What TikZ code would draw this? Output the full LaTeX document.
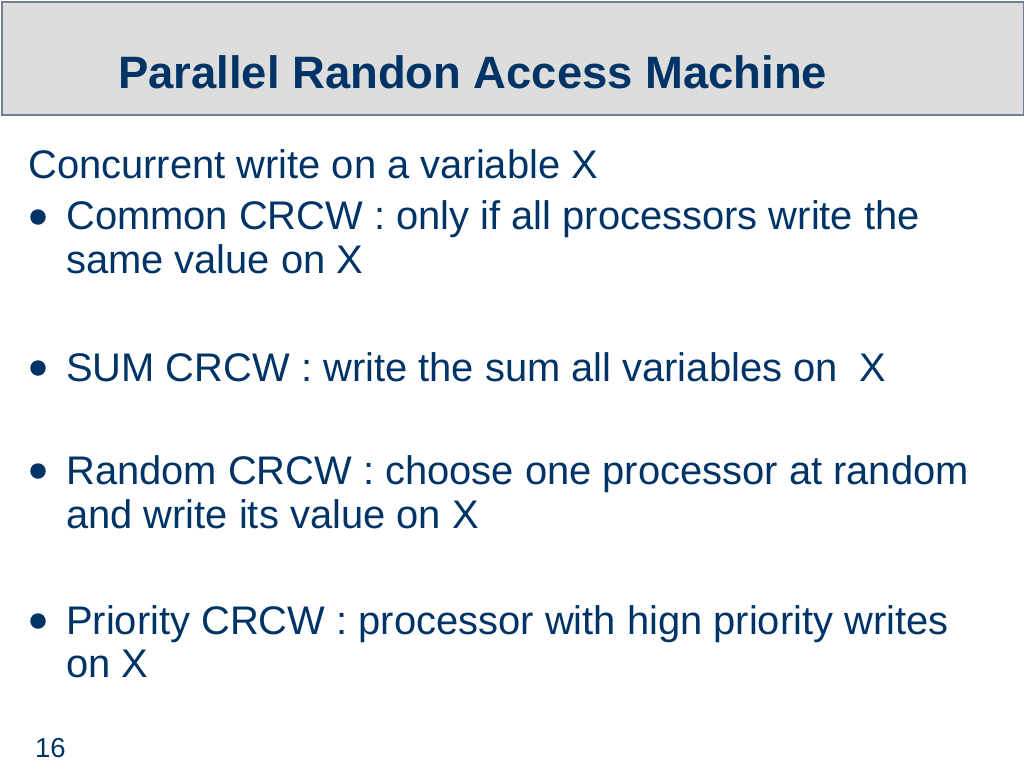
\documentclass[tikz,border=0pt]{standalone}
\usepackage{fontspec}
\setmainfont{Liberation Sans}
\usepackage{xcolor}
\usepackage{tikz}
\usetikzlibrary{positioning}
\definecolor{slideblue}{HTML}{003366}
\definecolor{titlegray}{HTML}{DDDDDD}
\definecolor{framegray}{HTML}{717D90}
\tikzstyle{line} = [anchor=base west, inner sep=0pt, text=slideblue, font=\fontsize{39.9}{44}\selectfont]
\tikzstyle{dot} = [circle, fill=slideblue, minimum size=15.5pt, inner sep=0pt]

\begin{document}
\begin{tikzpicture}[x=1pt, y=-1pt]
\useasboundingbox (0,0) rectangle (1024,768);
\node [draw=framegray, line width=1.6pt, fill=titlegray, rectangle, minimum width=1022pt, minimum height=113pt, anchor=north west, inner sep=0pt] (head) at (1,1) {};
\node [anchor=base west, inner sep=0pt, text=slideblue, font=\fontsize{45.4}{50}\bfseries\selectfont] (title) at (118,88) {Parallel Randon Access Machine};
\node [line] (intro) at (28,178) {Concurrent write on a variable X};
\node [dot] (b1) at (38,217) {};
\node [line] (common) at (66,229) {Common CRCW : only if all processors write the};
\node [line] (common2) at (66,273) {same value on X};
\node [dot] (b2) at (38,368) {};
\node [line] (sum) at (66,381) {SUM CRCW : write the sum all variables on\ \ X};
\node [dot] (b3) at (38,471) {};
\node [line] (random) at (66,484) {Random CRCW : choose one processor at random};
\node [line] (random2) at (66,528) {and write its value on X};
\node [dot] (b4) at (38,621) {};
\node [line] (priority) at (66,634) {Priority CRCW : processor with hign priority writes};
\node [line] (priority2) at (66,677) {on X};
\node [anchor=base west, inner sep=0pt, text=slideblue, font=\fontsize{27.5}{30}\selectfont] (page) at (35,757) {16};
\end{tikzpicture}
\end{document}
